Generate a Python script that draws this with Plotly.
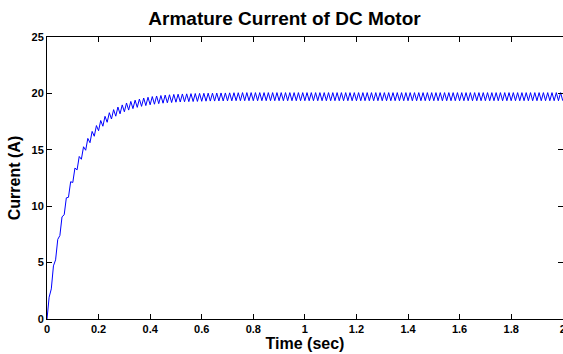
import plotly.graph_objects as go

# Time samples (sec)
time_s = [
    0.0, 0.0083, 0.0167, 0.025, 0.0333, 0.0417, 0.05, 0.0583, 0.0667, 0.075, 0.0833, 0.0917,
    0.1, 0.1083, 0.1167, 0.125, 0.1333, 0.1417, 0.15, 0.1583, 0.1667, 0.175, 0.1833, 0.1917,
    0.2, 0.2083, 0.2167, 0.225, 0.2333, 0.2417, 0.25, 0.2583, 0.2667, 0.275, 0.2833, 0.2917,
    0.3, 0.3083, 0.3167, 0.325, 0.3333, 0.3417, 0.35, 0.3583, 0.3667, 0.375, 0.3833, 0.3917,
    0.4, 0.4083, 0.4167, 0.425, 0.4333, 0.4417, 0.45, 0.4583, 0.4667, 0.475, 0.4833, 0.4917,
    0.5, 0.5083, 0.5167, 0.525, 0.5333, 0.5417, 0.55, 0.5583, 0.5667, 0.575, 0.5833, 0.5917,
    0.6, 0.6083, 0.6167, 0.625, 0.6333, 0.6417, 0.65, 0.6583, 0.6667, 0.675, 0.6833, 0.6917,
    0.7, 0.7083, 0.7167, 0.725, 0.7333, 0.7417, 0.75, 0.7583, 0.7667, 0.775, 0.7833, 0.7917,
    0.8, 0.8083, 0.8167, 0.825, 0.8333, 0.8417, 0.85, 0.8583, 0.8667, 0.875, 0.8833, 0.8917,
    0.9, 0.9083, 0.9167, 0.925, 0.9333, 0.9417, 0.95, 0.9583, 0.9667, 0.975, 0.9833, 0.9917,
    1.0, 1.0083, 1.0167, 1.025, 1.0333, 1.0417, 1.05, 1.0583, 1.0667, 1.075, 1.0833, 1.0917,
    1.1, 1.1083, 1.1167, 1.125, 1.1333, 1.1417, 1.15, 1.1583, 1.1667, 1.175, 1.1833, 1.1917,
    1.2, 1.2083, 1.2167, 1.225, 1.2333, 1.2417, 1.25, 1.2583, 1.2667, 1.275, 1.2833, 1.2917,
    1.3, 1.3083, 1.3167, 1.325, 1.3333, 1.3417, 1.35, 1.3583, 1.3667, 1.375, 1.3833, 1.3917,
    1.4, 1.4083, 1.4167, 1.425, 1.4333, 1.4417, 1.45, 1.4583, 1.4667, 1.475, 1.4833, 1.4917,
    1.5, 1.5083, 1.5167, 1.525, 1.5333, 1.5417, 1.55, 1.5583, 1.5667, 1.575, 1.5833, 1.5917,
    1.6, 1.6083, 1.6167, 1.625, 1.6333, 1.6417, 1.65, 1.6583, 1.6667, 1.675, 1.6833, 1.6917,
    1.7, 1.7083, 1.7167, 1.725, 1.7333, 1.7417, 1.75, 1.7583, 1.7667, 1.775, 1.7833, 1.7917,
    1.8, 1.8083, 1.8167, 1.825, 1.8333, 1.8417, 1.85, 1.8583, 1.8667, 1.875, 1.8833, 1.8917,
    1.9, 1.9083, 1.9167, 1.925, 1.9333, 1.9417, 1.95, 1.9583, 1.9667, 1.975, 1.9833, 1.9917,
    2.0,
]

# Armature current (A) (ripple peaks / troughs)
current_a = [
    0.0, 1.93, 2.67, 4.71, 5.24, 7.06, 7.40, 9.06, 9.24, 10.74, 10.79, 12.17,
    12.10, 13.38, 13.22, 14.41, 14.16, 15.27, 14.96, 16.01, 15.63, 16.63, 16.20, 17.15,
    16.69, 17.60, 17.09, 17.97, 17.44, 18.29, 17.73, 18.56, 17.98, 18.79, 18.19, 18.98,
    18.37, 19.15, 18.52, 19.29, 18.65, 19.40, 18.76, 19.50, 18.85, 19.59, 18.92, 19.66,
    18.99, 19.72, 19.04, 19.77, 19.09, 19.81, 19.13, 19.85, 19.17, 19.88, 19.19, 19.91,
    19.22, 19.93, 19.24, 19.95, 19.26, 19.96, 19.27, 19.98, 19.28, 19.99, 19.29, 20.00,
    19.30, 20.01, 19.31, 20.02, 19.32, 20.02, 19.32, 20.03, 19.33, 20.04, 19.33, 20.04,
    19.34, 20.05, 19.34, 20.06, 19.35, 20.06, 19.35, 20.07, 19.35, 20.07, 19.35, 20.07,
    19.35, 20.07, 19.35, 20.07, 19.35, 20.07, 19.35, 20.07, 19.35, 20.07, 19.35, 20.07,
    19.35, 20.07, 19.35, 20.07, 19.35, 20.07, 19.35, 20.07, 19.35, 20.07, 19.35, 20.07,
    19.35, 20.07, 19.35, 20.07, 19.35, 20.07, 19.35, 20.07, 19.35, 20.07, 19.35, 20.07,
    19.35, 20.07, 19.35, 20.07, 19.35, 20.07, 19.35, 20.07, 19.35, 20.07, 19.35, 20.07,
    19.35, 20.07, 19.35, 20.07, 19.35, 20.07, 19.35, 20.07, 19.35, 20.07, 19.35, 20.07,
    19.35, 20.07, 19.35, 20.07, 19.35, 20.07, 19.35, 20.07, 19.35, 20.07, 19.35, 20.07,
    19.35, 20.07, 19.35, 20.07, 19.35, 20.07, 19.35, 20.07, 19.35, 20.07, 19.35, 20.07,
    19.35, 20.07, 19.35, 20.07, 19.35, 20.07, 19.35, 20.07, 19.35, 20.07, 19.35, 20.07,
    19.35, 20.07, 19.35, 20.07, 19.35, 20.07, 19.35, 20.07, 19.35, 20.07, 19.35, 20.07,
    19.35, 20.07, 19.35, 20.07, 19.35, 20.07, 19.35, 20.07, 19.35, 20.07, 19.35, 20.07,
    19.35, 20.07, 19.35, 20.07, 19.35, 20.07, 19.35, 20.07, 19.35, 20.07, 19.35, 20.07,
    19.35, 20.07, 19.35, 20.07, 19.35, 20.07, 19.35, 20.07, 19.35, 20.07, 19.35, 20.07,
    19.35,
]

x_ticks = [0, 0.2, 0.4, 0.6, 0.8, 1, 1.2, 1.4, 1.6, 1.8, 2]
x_tick_text = ["0", "0.2", "0.4", "0.6", "0.8", "1", "1.2", "1.4", "1.6", "1.8", "2"]
y_ticks = [0, 5, 10, 15, 20, 25]
y_tick_text = ["0", "5", "10", "15", "20", "25"]

title_text = "Armature Current of DC Motor"
x_title = "Time (sec)"
y_title = "Current (A)"

FONT = "Liberation Sans, Arial, sans-serif"

fig = go.Figure()
fig.add_trace(go.Scatter(
    x=time_s, y=current_a, mode="lines",
    line=dict(color="#0000ff", width=1),
    showlegend=False,
))

axis_common = dict(
    showgrid=False, zeroline=False, automargin=False,
    showline=True, linecolor="black", linewidth=1, mirror="ticks",
    ticks="inside", ticklen=5, tickwidth=1, tickcolor="black",
    ticklabeloverflow="allow",
    tickfont=dict(family=FONT, size=11, color="black", weight="bold"),
)

fig.update_layout(
    width=563, height=354, autosize=False,
    margin=dict(l=47, r=0, t=37, b=35),
    paper_bgcolor="white", plot_bgcolor="white",
    title=dict(
        text=title_text, x=284.5 / 563, xanchor="center", xref="container",
        y=1 - 18 / 354, yanchor="middle", yref="container",
        font=dict(family=FONT, size=19, color="black", weight="bold"),
    ),
    xaxis=dict(
        range=[0, 2.001], tickvals=x_ticks, ticktext=x_tick_text,
        title=dict(text=x_title, standoff=2,
                   font=dict(family=FONT, size=16, color="black", weight="bold")),
        **axis_common,
    ),
    yaxis=dict(
        range=[0, 25], tickvals=y_ticks, ticktext=y_tick_text,
        title=dict(text=y_title, standoff=6,
                   font=dict(family=FONT, size=16, color="black", weight="bold")),
        **axis_common,
    ),
)

fig.write_html(
    "out.html",
    config={"responsive": False, "displayModeBar": False},
    post_script="document.body.style.margin='0px'; document.body.style.overflow='hidden';",
)
